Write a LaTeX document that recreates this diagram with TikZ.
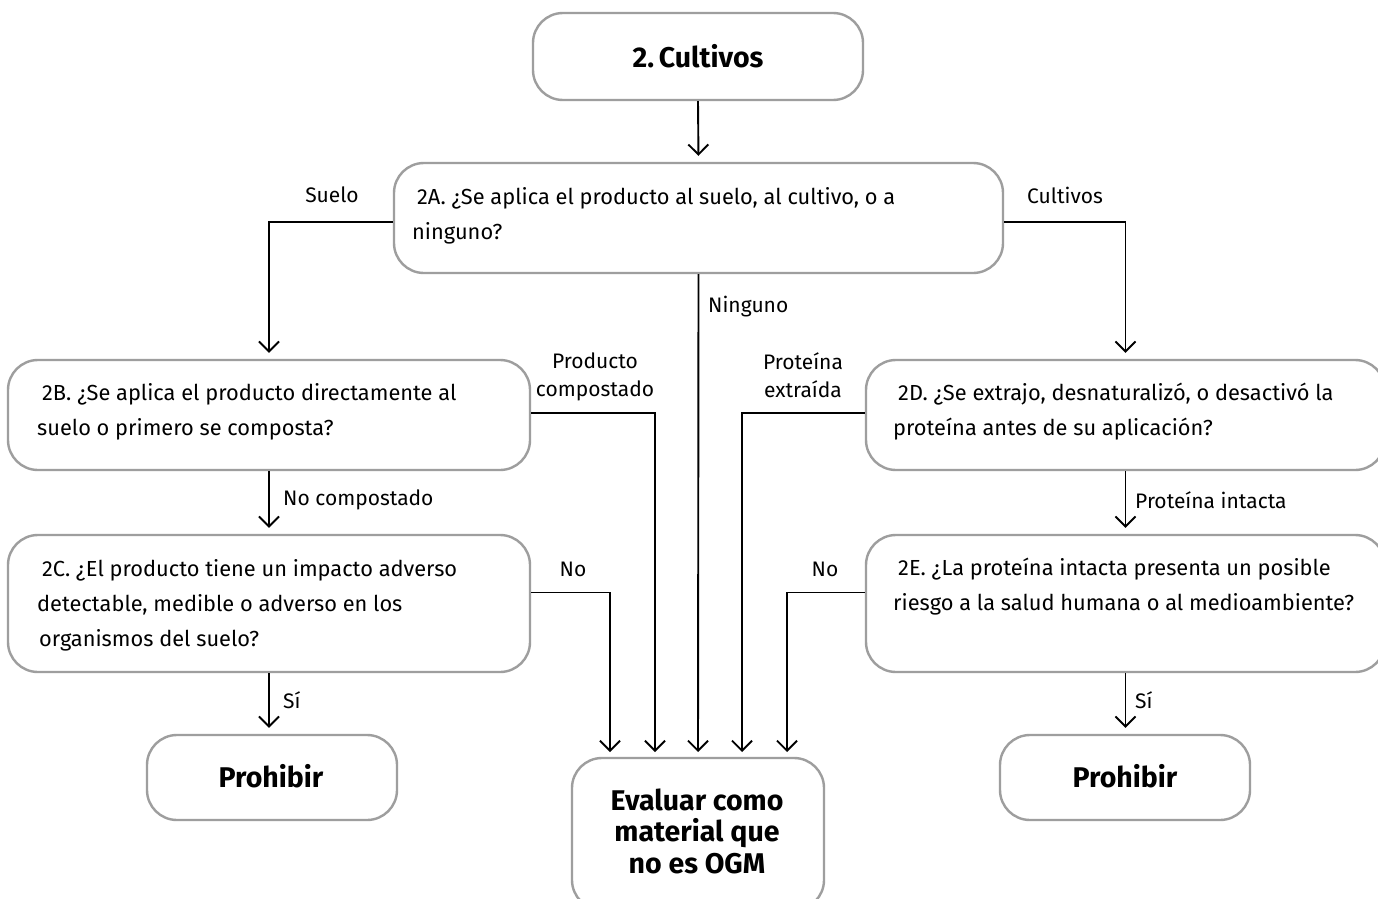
\documentclass[tikz,border=0pt]{standalone}
\usepackage{fontspec}
\setmainfont{Fira Sans}
\usetikzlibrary{arrows.meta,calc}
\tikzset{
  box/.style={draw=black!38, line width=2.4pt, rounded corners=30pt, fill=white, inner sep=0pt},
  arr/.style={draw=black, line width=1.9pt, -{Straight Barb[length=10pt,width=20pt]}, shorten >=6pt},
  qtext/.style={anchor=west, align=left, inner sep=0pt, font=\fontsize{21.8}{35}\selectfont},
  lbl/.style={inner sep=0pt, font=\fontsize{21}{28}\selectfont, align=center},
  btext/.style={inner sep=0pt, align=center, font=\fontsize{28.5}{31.5}\selectfont\bfseries}
}
\begin{document}
\begin{tikzpicture}[x=1pt,y=-1pt]
\clip (0,0) rectangle (1378,899);
\fill[white] (0,0) rectangle (1378,899);
% boxes
\node[box, minimum width=330pt, minimum height=87pt] (top) at (698,56.5) {};
\node[box, minimum width=609pt, minimum height=110pt] (A) at (698.5,218) {};
\node[box, minimum width=522pt, minimum height=110pt] (B) at (269,415) {};
\node[box, minimum width=522pt, minimum height=137pt] (C) at (269,603.5) {};
\node[box, minimum width=519pt, minimum height=110pt] (D) at (1125.5,415) {};
\node[box, minimum width=519pt, minimum height=137pt] (E) at (1125.5,603.5) {};
\node[box, minimum width=250pt, minimum height=85pt] (P1) at (272,777.5) {};
\node[box, minimum width=250pt, minimum height=85pt] (P2) at (1125,777.5) {};
\node[box, minimum width=252pt, minimum height=152pt] (Ev) at (698,834) {};
% texts
\node[btext] (tTop) at (698,56) {2.\,Cultivos};
\node[qtext] (tA) at (412,216) {\hspace{5pt}2A. ¿Se aplica el producto al suelo, al cultivo, o a\\ninguno?};
\node[qtext] (tB) at (37,412) {\hspace{5pt}2B. ¿Se aplica el producto directamente al\\suelo o primero se composta?};
\node[qtext] (tC) at (37,605) {\hspace{5pt}2C. ¿El producto tiene un impacto adverso\\detectable, medible o adverso en los\\\hspace{2pt}organismos del suelo?};
\node[qtext] (tD) at (893,412) {\hspace{5pt}2D. ¿Se extrajo, desnaturalizó, o desactivó la\\proteína antes de su aplicación?};
\node[qtext] (tE) at (893,587) {\hspace{5pt}2E. ¿La proteína intacta presenta un posible\\riesgo a la salud humana o al medioambiente?};
\node[btext] (tP1) at (271,776) {Prohibir};
\node[btext] (tP2) at (1125,776) {Prohibir};
\node[btext] (tEv) at (697,831) {Evaluar como\\material que\\no es OGM};
% connector end points on Evaluar
\coordinate (e1) at (610,758);
\coordinate (e2) at (655,758);
\coordinate (e3) at (698,758);
\coordinate (e4) at (742,758);
\coordinate (e5) at (787,758);
% connectors
\draw[arr] (top.south) -- (A.north);
\draw[arr] ([yshift=-4pt]A.west) -| (B.north);
\draw[arr] ([yshift=-4pt]A.east) -| (D.north);
\draw[arr] (A.south) -- (e3);
\draw[arr] ([yshift=2pt]B.east) -| (e2);
\draw[arr] ([yshift=2pt]D.west) -| (e4);
\draw[arr] ([yshift=11pt]C.east) -| (e1);
\draw[arr] ([yshift=11pt]E.west) -| (e5);
\draw[arr] (B.south) -- (B.south |- C.north);
\draw[arr] (D.south) -- (D.south |- E.north);
\draw[arr] (C.south) -- (C.south |- P1.north);
\draw[arr] (E.south) -- (E.south |- P2.north);
% labels
\node[lbl] (lSuelo) at (332,195) {Suelo};
\node[lbl] (lCult) at (1065,195) {Cultivos};
\node[lbl, anchor=west] (lNing) at (708,307) {Ninguno};
\node[lbl] (lProd) at (595,377) {Producto\\compostado};
\node[lbl] (lProt) at (803,375) {Proteína\\extraída};
\node[lbl, anchor=west] (lNoComp) at (283,500) {No compostado};
\node[lbl, anchor=west] (lIntacta) at (1135,500) {Proteína intacta};
\node[lbl] (lNo1) at (573,569) {No};
\node[lbl] (lNo2) at (825,569) {No};
\node[lbl, anchor=west] (lSi1) at (283,700) {Sí};
\node[lbl, anchor=west] (lSi2) at (1135,700) {Sí};
\end{tikzpicture}
\end{document}
